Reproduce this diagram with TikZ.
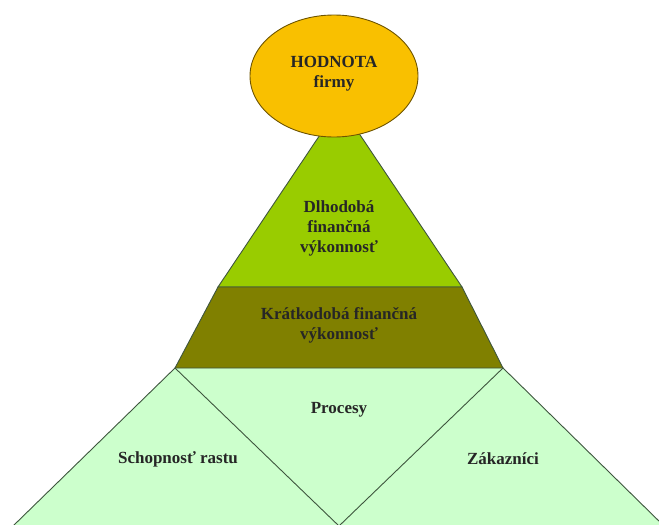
\documentclass[tikz,border=0pt]{standalone}
\usepackage{fontspec}
\setmainfont{Liberation Serif}
\begin{document}
\begin{tikzpicture}[x=1pt,y=-1pt,
  edge/.style={draw=linegray,line width=0.9pt,line join=miter},
  lbl/.style={font=\bfseries\fontsize{17}{20}\selectfont,align=center,text=black!85,inner sep=0pt}]
\definecolor{gold}{HTML}{F9C000}
\definecolor{goldedge}{HTML}{6E5400}
\definecolor{leaf}{HTML}{99CC00}
\definecolor{olive}{HTML}{808000}
\definecolor{mint}{HTML}{CCFFCC}
\definecolor{linegray}{HTML}{3E553E}
\useasboundingbox (0,0) rectangle (659,525);

% corner points
\coordinate (apex) at (340,105);
\coordinate (tl) at (218,287);
\coordinate (tr) at (462,287);
\coordinate (bl) at (175,368);
\coordinate (br) at (503,368);
\coordinate (fl) at (13,526);
\coordinate (fm) at (339,526);
\coordinate (fr) at (664,526);

% lower tier: three triangles
\fill[mint] (fl) -- (bl) -- (br) -- (fr) -- cycle;
\draw[edge] (fl) -- (bl) -- (fm) -- (br) -- (fr);

% long-term triangle
\filldraw[fill=leaf,edge] (apex) -- (tr) -- (tl) -- cycle;

% short-term band
\filldraw[fill=olive,edge] (tl) -- (tr) -- (br) -- (bl) -- cycle;

% value ellipse
\filldraw[fill=gold,draw=goldedge,line width=0.9pt] (334,76) ellipse [x radius=84, y radius=61];

\node[lbl,font=\bfseries\fontsize{17}{20}\selectfont] (hodnota) at (334,74) {HODNOTA\\firmy};
\node[lbl] (dlho) at (339,228) {Dlhodobá\\finančná\\výkonnosť};
\node[lbl] (kratko) at (339,325) {Krátkodobá finančná\\výkonnosť};
\node[lbl] (procesy) at (339,410) {Procesy};
\node[lbl] (rast) at (178,459) {Schopnosť rastu};
\node[lbl] (zak) at (503,459) {Zákazníci};
\end{tikzpicture}
\end{document}
